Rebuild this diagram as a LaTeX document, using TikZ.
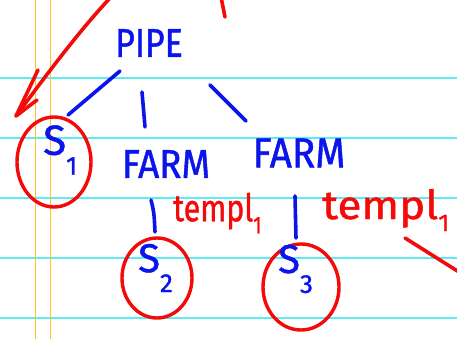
\documentclass[tikz,border=0pt]{standalone}
\usepackage{fontspec}
\setmainfont{Fira Sans}[FakeBold=1.2]
\usetikzlibrary{calc,shapes.geometric}
\definecolor{inkblue}{RGB}{10,20,235}
\definecolor{inkred}{RGB}{245,10,10}
\definecolor{rulecyan}{RGB}{90,235,245}
\definecolor{marginorange}{RGB}{255,195,40}
\tikzset{
  ink/.style={line width=3.6pt, line cap=round, line join=round},
  blueink/.style={ink, draw=inkblue},
  redink/.style={ink, draw=inkred},
  handtext/.style={inner sep=0pt, font=\fontsize{#1}{#1}\selectfont},
  bluetext/.style={handtext=#1, text=inkblue},
  redtext/.style={handtext=#1, text=inkred},
  ring/.style={draw=inkred, line width=3.4pt},
}
\newcommand{\lowsub}[3]{\raisebox{#1}{\fontsize{#2}{#2}\selectfont #3}}
\begin{document}
\begin{tikzpicture}[x=1pt,y=-1pt]
  \useasboundingbox (0,0) rectangle (457,339);
  % ruled notebook paper
  \fill[white] (0,0) rectangle (457,339);
  \foreach \yy in {78,138,198,258,318}
    \draw[rulecyan, line width=1.8pt] (0,\yy) -- (457,\yy);
  \foreach \xx in {35.5,50.5}
    \draw[marginorange, line width=1.4pt] (\xx,0) -- (\xx,339);

  % skeleton tree
  \node[bluetext=40, xscale=0.85] (pipe) at (149,43) {PIPE};
  \node[bluetext=40, xscale=0.92] (farmA) at (166,164) {FARM};
  \node[bluetext=42, xscale=0.92] (farmB) at (299,153) {FARM};

  \node[ring, ellipse, minimum width=74pt, minimum height=90pt, inner sep=0pt] (s1) at (54,162) {};
  \node[ring, ellipse, minimum width=70pt, minimum height=80pt, inner sep=0pt] (s2) at (157,278) {};
  \node[ring, ellipse, minimum width=76pt, minimum height=86pt, inner sep=0pt] (s3) at (301,287) {};

  \node[bluetext=42, anchor=west] (s1l) at (43,150) {S\lowsub{-20pt}{26}{1}};
  \node[bluetext=40, anchor=west] (s2l) at (138,268) {S\lowsub{-20pt}{26}{2}};
  \node[bluetext=40, anchor=west] (s3l) at (278,269) {S\lowsub{-20pt}{26}{3}};

  % connectors
  \coordinate (pa) at (120,71);  \coordinate (sa) at (68,115);
  \coordinate (pb) at (142,92);  \coordinate (fa) at (145,127);
  \coordinate (pc) at (210,85);  \coordinate (fb) at (246,121);
  \coordinate (fa2) at (151,200); \coordinate (sb) at (155,232);
  \coordinate (fb2) at (295,196); \coordinate (sc) at (296,238);
  \draw[blueink] (pa) -- (sa);
  \draw[blueink] (pb) -- (fa);
  \draw[blueink] (pc) -- (fb);
  \draw[blueink] (fa2) .. controls (154,212) .. (sb);
  \draw[blueink] (fb2) -- (sc);

  % template annotations
  \node[redtext=38, xscale=0.8, anchor=west] (tA) at (173,213) {templ\lowsub{-12pt}{24}{1}};
  \node[redtext=40, xscale=1.1, anchor=west] (tB) at (322,210) {templ\lowsub{-12pt}{24}{1}};
  \coordinate (tail) at (405,238);
  \coordinate (tailend) at (459,272);
  \draw[redink] (tail) -- (tailend);

  % red pointer arrow towards S1
  \coordinate (arrowstart) at (111,-3);
  \coordinate (arrowtip) at (16,116);
  \coordinate (barbA) at (38,70);
  \coordinate (barbB) at (37,100);
  \draw[redink] (arrowstart) .. controls (80,30) and (50,70) .. (arrowtip);
  \draw[redink] (barbA) -- (arrowtip) -- (barbB);

  % stray red stroke at top
  \coordinate (strayA) at (221,-3);
  \coordinate (strayB) at (225,17);
  \draw[redink] (strayA) -- (strayB);
\end{tikzpicture}
\end{document}
